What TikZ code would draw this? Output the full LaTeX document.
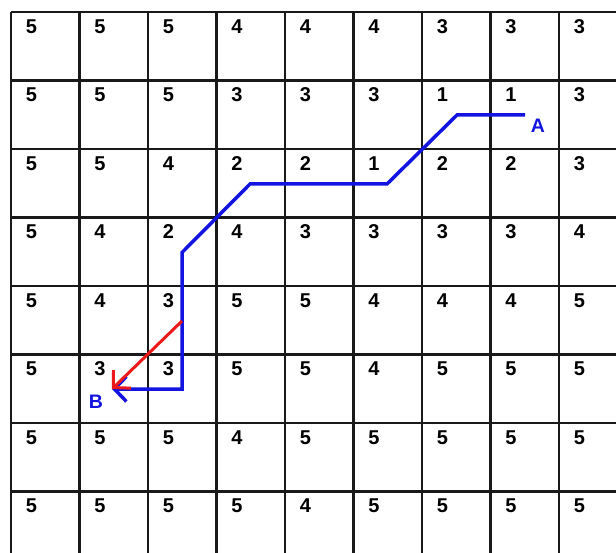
\documentclass[tikz,border=0pt]{standalone}
\usepackage{fontspec}
\setmainfont{Liberation Sans}
\usetikzlibrary{arrows.meta}
\definecolor{pathblue}{RGB}{20,20,225}
\definecolor{pathred}{RGB}{235,25,25}
\definecolor{gridc}{RGB}{25,25,25}
\tikzset{
  gridline/.style={draw=gridc, line width=2.2pt},
  num/.style={inner sep=0pt, anchor=center, font=\fontsize{20}{20}\selectfont\bfseries},
  ptlabel/.style={inner sep=0pt, anchor=center, text=pathblue, font=\fontsize{19.5}{20}\selectfont\bfseries},
  tip/.style={-{Straight Barb[length=12pt, width=25pt]}},
  bluepath/.style={draw=pathblue, line width=3.5pt, line join=miter, tip},
  redpath/.style={draw=pathred, line width=3pt, tip}
}
\begin{document}
\begin{tikzpicture}[x=1pt, y=-1pt]
\useasboundingbox (0,0) rectangle (616,553);
\fill[white] (0,0) rectangle (616,553);
\clip (0,0) rectangle (616,553);
% grid
\foreach \i in {0,...,9}
  \draw[gridline] ({11+68.5*\i},12) -- ({11+68.5*\i},570);
\foreach \j in {0,...,8}
  \draw[gridline] (11,{12+68.5*\j}) -- (640,{12+68.5*\j});
% numbers
\foreach \row [count=\r from 0] in {
  {5,5,5,4,4,4,3,3,3},
  {5,5,5,3,3,3,1,1,3},
  {5,5,4,2,2,1,2,2,3},
  {5,4,2,4,3,3,3,3,4},
  {5,4,3,5,5,4,4,4,5},
  {5,3,3,5,5,4,5,5,5},
  {5,5,5,4,5,5,5,5,5},
  {5,5,5,5,4,5,5,5,5}}{
  \foreach \v [count=\c from 0] in \row {
    \node[num] (n\r-\c) at ({11+68.5*\c+20.5},{12+68.5*\r+14.5}) {\v};
  }
}
% path coordinates
\coordinate (A0) at (525,115);
\coordinate (p1) at (457,115);
\coordinate (p2) at (387,184);
\coordinate (p3) at (250,184);
\coordinate (p4) at (182,252.5);
\coordinate (p5) at (182,389);
\coordinate (B0) at (112,389);
\coordinate (r0) at (182,321);
\draw[bluepath] (A0) -- (p1) -- (p2) -- (p3) -- (p4) -- (p5) -- (B0);
\draw[redpath] (r0) -- (B0);
\node[ptlabel] (A) at (538,126) {A};
\node[ptlabel] (B) at (96,402) {B};
\end{tikzpicture}
\end{document}
